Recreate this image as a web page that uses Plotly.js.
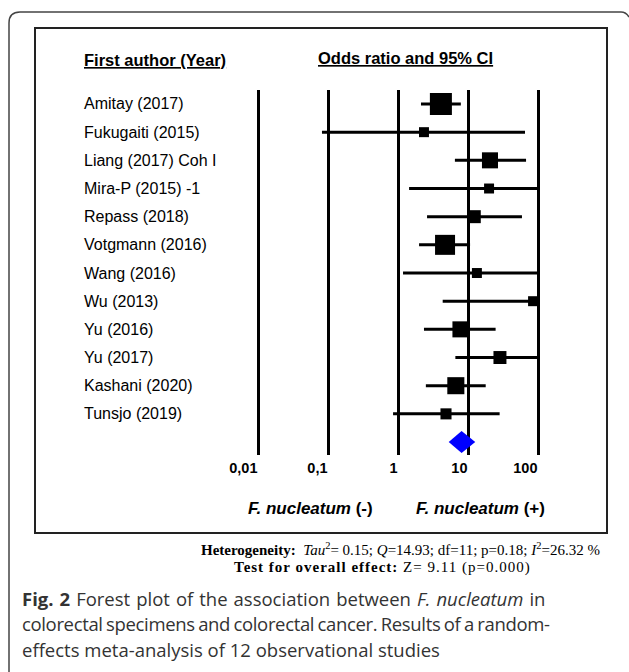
<!DOCTYPE html>
<html>
<head>
<meta charset="utf-8">
<script src="https://cdn.plot.ly/plotly-3.0.1.min.js"></script>
<style>html,body{margin:0;padding:0;background:#fff;}#chart{width:629px;height:672px;}</style>
</head>
<body>
<div id="chart"></div>
<script>
// ---- data ----
const studies = ["Amitay (2017)", "Fukugaiti (2015)", "Liang (2017) Coh I", "Mira-P (2015) -1",
  "Repass (2018)", "Votgmann (2016)", "Wang (2016)", "Wu (2013)", "Yu (2016)", "Yu (2017)",
  "Kashani (2020)", "Tunsjo (2019)"];
const oddsRatio = [4.1, 2.35, 20.6, 20.0, 12.3, 4.7, 13.4, 85.0, 7.8, 28.6, 6.7, 4.85];
const ciLower   = [2.13, 0.082, 6.5, 1.44, 2.6, 2.0, 1.18, 4.35, 2.35, 6.6, 2.5, 0.85];
const ciUpper   = [7.9, 65.2, 67.5, 100, 59, 10.7, 100, 100, 24.8, 100, 17.9, 28.3];
const weights   = [19.0, 3.9, 10.1, 3.9, 6.6, 15.7, 3.9, 3.9, 10.1, 6.6, 11.4, 4.8];
const pooledOR = 8.1, pooledLower = 5.3, pooledUpper = 12.7;
const tickValues = [0.01, 0.1, 1, 10, 100];
const tickLabels = ["0,01", "0,1", "1", "10", "100"];

// ---- helpers ----
const W = 629, H = 672;
const px = x => x / W;
const py = y => 1 - y / H;
const rows = studies.map((_, i) => i + 1);
const pooledRow = studies.length + 1;
const sizes = weights.map(w => 5.05 * Math.sqrt(w));
const ARIAL = "Arial, 'Liberation Sans', sans-serif";
const TIMES = "'Times New Roman', 'Liberation Serif', serif";
const CAP = "'Open Sans', 'Noto Sans', sans-serif";

const studyTrace = {
  type: "scatter", mode: "markers",
  x: oddsRatio, y: rows,
  marker: {symbol: "square", size: sizes, color: "#000", opacity: 1, line: {width: 0}},
  error_x: {
    type: "data", symmetric: false,
    array: ciUpper.map((u, i) => u - oddsRatio[i]),
    arrayminus: ciLower.map((l, i) => oddsRatio[i] - l),
    thickness: 3, width: 0, color: "#000"
  },
  hoverinfo: "skip", showlegend: false, cliponaxis: false
};

const dh = 0.39;
const diamondTrace = {
  type: "scatter", mode: "lines",
  x: [pooledLower, pooledOR, pooledUpper, pooledOR, pooledLower],
  y: [pooledRow, pooledRow - dh, pooledRow, pooledRow + dh, pooledRow],
  fill: "toself", fillcolor: "#0000ff", line: {width: 0, color: "#0000ff"},
  hoverinfo: "skip", showlegend: false
};

const annotations = [];
studies.forEach((s, i) => {
  annotations.push({xref: "paper", yref: "y", x: px(82), y: rows[i], xanchor: "left", yanchor: "middle",
    text: s, showarrow: false, font: {family: ARIAL, size: 16, color: "#000"}});
});
annotations.push({xref: "paper", yref: "paper", x: px(155), y: py(60), xanchor: "center", yanchor: "middle",
  text: "<b><u>First author (Year)</u></b>", showarrow: false, font: {family: ARIAL, size: 16.5, color: "#000"}});
annotations.push({xref: "paper", yref: "paper", x: px(405), y: py(58), xanchor: "center", yanchor: "middle",
  text: "<b><u>Odds ratio and 95% CI</u></b>", showarrow: false, font: {family: ARIAL, size: 16.5, color: "#000"}});
annotations.push({xref: "paper", yref: "paper", x: px(310), y: py(508), xanchor: "center", yanchor: "middle",
  text: "<b><i>F. nucleatum</i> (-)</b>", showarrow: false, font: {family: ARIAL, size: 17, color: "#000"}});
annotations.push({xref: "paper", yref: "paper", x: px(481), y: py(508), xanchor: "center", yanchor: "middle",
  text: "<b><i>F. nucleatum</i> (+)</b>", showarrow: false, font: {family: ARIAL, size: 17, color: "#000"}});
annotations.push({xref: "paper", yref: "paper", x: px(400), y: py(549), xanchor: "center", yanchor: "middle",
  text: "<b>Heterogeneity:</b>  <i>Tau</i><sup>2</sup>= 0.15; <i>Q</i>=14.93; df=11; p=0.18; <i>I</i><sup>2</sup>=26.32 %",
  showarrow: false, font: {family: TIMES, size: 15, color: "#000"}});
annotations.push({xref: "paper", yref: "paper", x: px(383), y: py(567), xanchor: "center", yanchor: "middle",
  text: "<span style=\"letter-spacing:1px\"><b>Test for overall effect:</b> Z= 9.11 (p=0.000)</span>",
  showarrow: false, font: {family: TIMES, size: 15, color: "#000"}});
const capLines = [
  "<span style=\"word-spacing:1.2px\"><b>Fig. 2</b> Forest plot of the association between <i>F. nucleatum</i> in</span>",
  "<span style=\"letter-spacing:-0.35px;word-spacing:-1px\">colorectal specimens and colorectal cancer. Results of a random-</span>",
  "effects meta-analysis of 12 observational studies"];
capLines.forEach((t, i) => {
  annotations.push({xref: "paper", yref: "paper", x: px(20), y: py(598 + i * 25.5), xanchor: "left", yanchor: "middle",
    text: t, showarrow: false, font: {family: CAP, size: 18.5, color: "#333"}});
});

const outerPath = `M ${px(9)},${py(690)} L ${px(9)},${py(23)} Q ${px(9)},${py(12)} ${px(20)},${py(12)} ` +
  `L ${px(621)},${py(12)} Q ${px(626)},${py(12)} ${px(629)},${py(17)}`;

const layout = {
  width: W, height: H,
  margin: {l: 0, r: 0, t: 0, b: 0},
  paper_bgcolor: "#fff", plot_bgcolor: "#fff",
  showlegend: false,
  xaxis: {
    type: "log", domain: [px(244), px(552)], range: [-2.2, 2.2],
    tickmode: "array", tickvals: tickValues, ticktext: tickLabels,
    showgrid: true, gridcolor: "#000", gridwidth: 3,
    zeroline: false, showline: false,
    ticks: "outside", ticklen: 8, tickcolor: "rgba(0,0,0,0)",
    ticklabelposition: "outside left",
    tickfont: {family: ARIAL, size: 14.5, color: "#000", weight: "bold"},
    fixedrange: true
  },
  yaxis: {
    domain: [py(455), py(90)], range: [13.46, 0.503],
    showgrid: false, zeroline: false, showline: false, showticklabels: false, ticks: "",
    fixedrange: true
  },
  shapes: [
    {type: "rect", xref: "paper", yref: "paper", x0: px(35), x1: px(607), y0: py(533), y1: py(28),
      line: {color: "#222", width: 2}, fillcolor: "rgba(0,0,0,0)", layer: "below"},
    {type: "path", xref: "paper", yref: "paper", path: outerPath, line: {color: "#444", width: 1.5}}
  ],
  annotations: annotations
};

Plotly.newPlot("chart", [studyTrace, diamondTrace], layout, {staticPlot: true, displayModeBar: false});
</script>
</body>
</html>
